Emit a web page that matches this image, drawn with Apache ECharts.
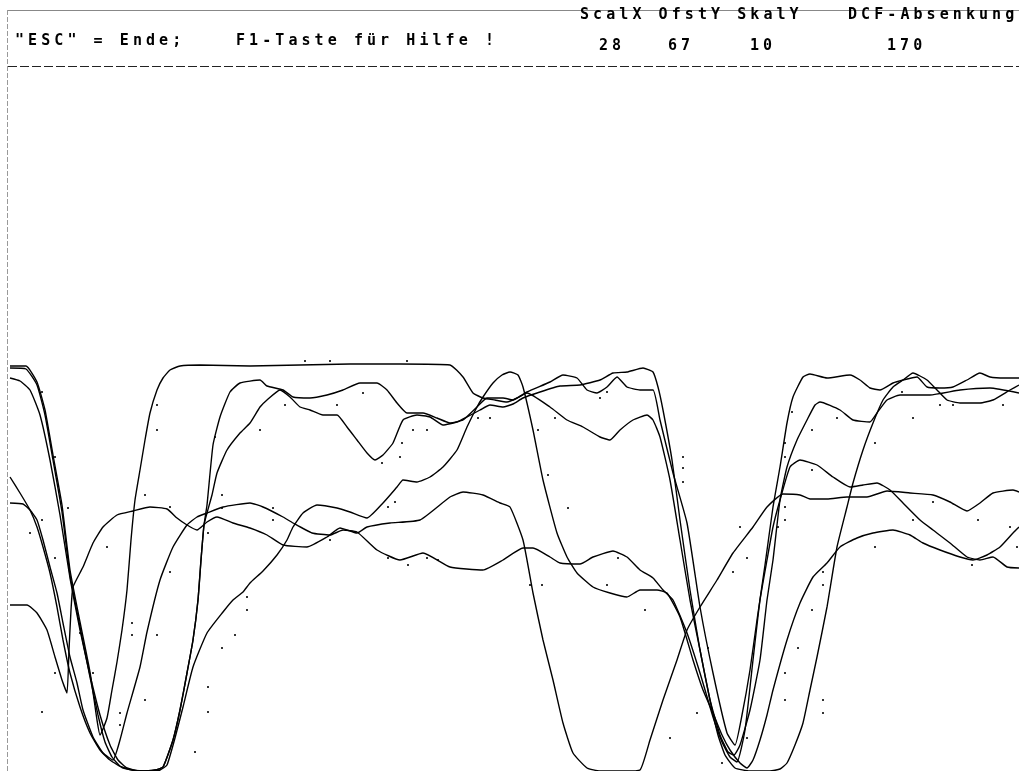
<!DOCTYPE html>
<html>
<head>
<meta charset="utf-8">
<script src="https://cdn.jsdelivr.net/npm/echarts@6/dist/echarts.min.js"></script>
<style>
html,body{margin:0;padding:0;background:#fff;}
#c{width:1019px;height:771px;}
</style>
</head>
<body>
<div id="c"></div>
<script>
// ---- header texts ----
const helpLeft = '"ESC" = Ende;';
const helpRight = 'F1-Taste für Hilfe !';
const paramHeader = 'ScalX OfstY SkalY';
const dcfHeader = 'DCF-Absenkung';
const paramValues = ['28', '67', '10'];
const dcfValue = '170';

// ---- traces: [sample x, level] (level = signal amplitude) ----
const trace1 = [[10,405],[26,405],[37,389],[45,361],[53,316],[62,266],[70,201],[80,149],[90,99],[97,51],[100,36],[107,53],[112,81],[117,109],[122,141],[127,181],[131,231],[135,271],[140,301],[145,331],[150,358],[157,381],[163,393],[170,401],[180,405],[200,406],[250,405],[300,406],[350,407],[400,407],[450,406],[463,394],[473,378],[483,373],[495,371],[507,369],[517,373],[527,379],[550,389],[563,396],[577,393],[587,381],[597,378],[607,384],[617,394],[627,384],[640,381],[653,381],[660,351],[673,298],[687,248],[700,164],[713,98],[727,38],[735,26],[742,56],[750,101],[757,151],[765,206],[773,264],[780,304],[787,348],[793,374],[803,394],[810,397],[827,393],[850,396],[860,391],[870,383],[880,381],[893,388],[903,391],[917,394],[927,384],[940,383],[953,384],[967,391],[980,398],[990,394],[1005,393],[1019,393]];
const trace2 = [[10,403],[26,402],[37,386],[45,356],[53,311],[62,259],[70,196],[80,144],[90,94],[98,56],[105,29],[112,14],[120,5],[132,1],[150,0],[160,1],[167,6],[175,33],[183,64],[193,104],[207,138],[223,159],[233,171],[243,179],[250,188],[263,200],[277,216],[287,231],[293,244],[303,258],[317,266],[337,263],[350,259],[367,253],[383,268],[397,284],[403,291],[417,289],[430,294],[443,304],[457,321],[467,344],[477,364],[483,374],[493,388],[502,396],[510,399],[518,396],[523,384],[533,341],[543,291],[557,238],[567,214],[577,198],[593,184],[610,178],[627,174],[640,181],[657,181],[667,178],[680,154],[693,111],[703,81],[713,58],[722,36],[730,21],[740,8],[747,3],[753,11],[760,31],[767,56],[773,81],[787,131],[800,168],[813,194],[827,208],[840,224],[857,233],[873,238],[893,241],[910,236],[923,228],[940,221],[960,214],[973,211],[987,216],[1000,224],[1013,238],[1019,244]];
const trace3 = [[10,393],[20,390],[30,381],[40,356],[50,311],[60,256],[70,193],[80,141],[90,96],[100,56],[110,26],[118,11],[127,3],[140,0],[155,1],[163,4],[173,31],[180,61],[187,98],[193,131],[198,171],[201,211],[204,246],[207,266],[213,326],[220,354],[230,379],[240,388],[260,391],[267,385],[283,381],[293,374],[310,373],[327,376],[343,381],[360,388],[377,388],[387,381],[397,368],[407,358],[423,358],[437,353],[450,348],[463,351],[477,364],[487,373],[503,373],[513,371],[527,378],[550,364],[567,351],[583,344],[600,334],[610,331],[620,341],[633,351],[647,356],[653,351],[660,334],[670,291],[680,231],[690,171],[700,121],[710,71],[720,36],[728,19],[734,16],[740,26],[750,61],[760,111],[767,171],[773,211],[780,271],[787,304],[797,331],[807,351],[815,366],[820,369],[840,361],[853,351],[870,349],[877,358],[887,371],[900,376],[930,376],[960,381],[990,383],[1019,378]];
const trace4 = [[10,294],[20,278],[30,261],[37,244],[43,224],[50,198],[57,164],[63,131],[70,98],[80,64],[90,38],[100,21],[110,11],[123,3],[140,0],[155,1],[163,4],[173,31],[180,61],[187,98],[193,131],[198,171],[201,211],[204,246],[207,258],[212,276],[217,298],[227,321],[240,338],[250,348],[260,364],[267,371],[280,381],[290,374],[300,364],[310,361],[323,356],[337,356],[347,344],[357,331],[367,318],[375,311],[383,316],[393,328],[403,351],[417,356],[430,354],[443,346],[457,349],[467,354],[480,361],[490,366],[503,364],[513,367],[523,373],[540,379],[560,385],[580,386],[600,391],[613,398],[627,399],[643,403],[653,399],[658,384],[663,361],[672,311],[680,251],[690,181],[700,121],[710,71],[718,36],[725,16],[735,3],[750,0],[770,0],[780,2],[787,8],[795,26],[803,48],[810,81],[817,114],[827,164],[837,224],[847,264],[853,288],[863,321],[873,348],[883,371],[893,384],[903,391],[913,398],[927,391],[937,381],[947,371],[960,368],[980,368],[993,371],[1010,381],[1019,386]];
const trace5 = [[10,268],[23,267],[30,261],[37,251],[43,231],[50,204],[57,178],[63,148],[70,114],[77,88],[83,61],[93,34],[103,18],[113,11],[120,31],[127,58],[140,104],[147,139],[160,191],[173,224],[187,246],[197,254],[207,258],[223,264],[250,268],[263,264],[283,254],[293,248],[312,238],[330,236],[343,241],[357,239],[377,221],[400,211],[423,218],[450,204],[483,201],[503,211],[523,223],[533,223],[550,214],[560,208],[580,207],[593,214],[613,220],[627,214],[640,201],[653,193],[663,181],[673,171],[687,138],[700,98],[713,54],[722,29],[730,14],[737,9],[745,41],[753,111],[760,171],[767,211],[773,244],[780,271],[790,304],[800,311],[817,306],[833,294],[850,284],[863,286],[877,288],[890,281],[903,268],[920,251],[933,241],[950,228],[967,214],[980,211],[993,214],[1007,204],[1019,203]];
const trace6 = [[10,166],[27,166],[37,158],[47,141],[55,114],[62,91],[67,78],[69,121],[71,161],[73,184],[83,204],[93,228],[103,244],[117,256],[133,260],[150,264],[167,262],[177,253],[187,246],[197,241],[207,249],[217,254],[233,248],[250,243],[267,236],[283,226],[307,224],[327,234],[340,243],[357,238],[367,244],[390,248],[420,251],[450,274],[463,279],[483,276],[500,268],[510,264],[523,231],[533,178],[543,131],[553,91],[563,48],[573,18],[587,3],[600,0],[625,0],[640,1],[650,31],[663,71],[677,111],[687,141],[700,164],[717,191],[733,218],[753,244],[767,264],[783,277],[800,276],[810,272],[827,272],[847,274],[867,274],[887,280],[910,278],[933,276],[950,269],[967,260],[980,268],[993,278],[1013,281],[1019,279]];
// stray sample dots (noise)
const strayDots = [[157,366],[157,341],[42,379],[55,314],[68,263],[42,251],[30,238],[55,213],[107,224],[145,276],[170,264],[222,276],[222,263],[208,238],[170,199],[215,334],[260,341],[247,174],[247,161],[235,136],[222,123],[132,148],[132,136],[157,136],[208,84],[208,59],[145,71],[120,58],[120,46],[195,19],[93,98],[55,98],[80,138],[42,59],
[305,410],[330,410],[407,410],[285,366],[337,366],[363,378],[400,314],[402,328],[382,308],[413,341],[427,341],[395,269],[388,264],[330,231],[273,263],[273,251],[388,213],[408,206],[427,213],[438,211],[490,353],[478,353],[530,186],[542,186],[548,296],[538,341],
[555,353],[600,373],[607,379],[568,263],[607,186],[618,213],[645,161],[683,314],[683,303],[683,289],[740,244],[747,213],[733,199],[708,123],[670,33],[747,33],[722,8],[697,58],
[792,359],[785,328],[785,314],[812,341],[812,301],[837,353],[875,328],[875,224],[902,379],[913,353],[940,366],[953,366],[1003,366],[785,264],[785,251],[778,244],[933,269],[913,251],[978,251],[1010,244],[1017,224],[972,206],[823,199],[823,186],[812,161],[798,123],[785,98],[785,71],[823,71],[823,58]];

const traces = [trace1, trace2, trace3, trace4, trace5, trace6];

const chart = echarts.init(document.getElementById('c'), null, {renderer: 'canvas'});

const ADV = 13.1;
function charTexts(str, x0, yc) {
  const out = [];
  for (let i = 0; i < str.length; i++) {
    if (str[i] === ' ') continue;
    out.push({
      type: 'text', silent: true,
      style: {text: str[i], x: x0 + i * ADV, y: yc,
              fontFamily: 'DejaVu Sans Mono', fontWeight: 'bold', fontSize: 15,
              fill: '#000', verticalAlign: 'middle', align: 'left'}
    });
  }
  return out;
}

const graphics = [
  {type: 'line', silent: true, shape: {x1: 7, y1: 10.5, x2: 1019, y2: 10.5}, style: {stroke: '#888', lineWidth: 1}},
  {type: 'line', silent: true, shape: {x1: 7.5, y1: 10, x2: 7.5, y2: 771}, style: {stroke: '#999', lineWidth: 1, lineDash: [5, 2]}},
  {type: 'line', silent: true, shape: {x1: 8, y1: 66.5, x2: 1019, y2: 66.5}, style: {stroke: '#222', lineWidth: 1.2, lineDash: [9, 3]}}
];
graphics.push(...charTexts(helpLeft, 15, 41));
graphics.push(...charTexts(helpRight, 236, 41));
graphics.push(...charTexts(paramHeader, 580, 15));
graphics.push(...charTexts(dcfHeader, 848, 15));
const valX = [599, 668, 750];
paramValues.forEach((v, i) => graphics.push(...charTexts(v, valX[i], 46)));
graphics.push(...charTexts(dcfValue, 887, 46));

const series = traces.map((t, i) => ({
  name: 'Spur ' + (i + 1),
  type: 'line',
  data: t,
  showSymbol: false,
  smooth: 0.15,
  lineStyle: {color: '#000', width: 1.4},
  clip: true,
  silent: true
}));
series.push({
  name: 'Punkte', type: 'scatter', data: strayDots,
  symbol: 'rect', symbolSize: 2, itemStyle: {color: '#000'}, silent: true
});

chart.setOption({
  backgroundColor: '#fff',
  animation: false,
  grid: {left: 8, right: 0, top: 66, bottom: 0},
  xAxis: {type: 'value', min: 8, max: 1019, show: false},
  yAxis: {type: 'value', min: 0, max: 705, show: false},
  graphic: graphics,
  series: series
});
</script>
</body>
</html>
